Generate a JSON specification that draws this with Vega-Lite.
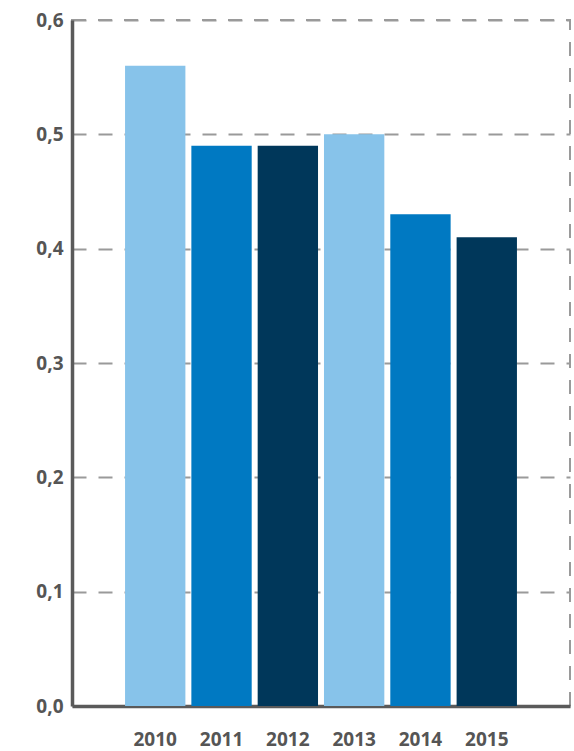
{
  "$schema": "https://vega.github.io/schema/vega-lite/v6.json",
  "autosize": {"type": "none"},
  "padding": {"left": 72, "top": 20, "right": 4, "bottom": 45},
  "width": 498,
  "height": 686,
  "background": "white",
  "config": {
    "view": {"stroke": "#9a9a9a", "strokeWidth": 2, "strokeDash": [14, 12]},
    "font": "Open Sans"
  },
  "data": {
    "values": [
      {"year": "2010", "value": 0.56},
      {"year": "2011", "value": 0.49},
      {"year": "2012", "value": 0.49},
      {"year": "2013", "value": 0.50},
      {"year": "2014", "value": 0.43},
      {"year": "2015", "value": 0.41}
    ]
  },
  "mark": {"type": "bar"},
  "encoding": {
    "x": {
      "field": "year",
      "type": "ordinal",
      "title": null,
      "scale": {"paddingInner": 0.09, "paddingOuter": 0.8},
      "axis": {
        "labelAngle": 0,
        "labelFont": "Open Sans",
        "labelFontSize": 19,
        "labelFontWeight": "bold",
        "labelColor": "#555555",
        "ticks": false,
        "labelPadding": 24,
        "domainColor": "#5a5a5a",
        "domainWidth": 3.5,
        "grid": false
      }
    },
    "y": {
      "field": "value",
      "type": "quantitative",
      "title": null,
      "scale": {"domain": [0, 0.6], "nice": false},
      "axis": {
        "values": [0, 0.1, 0.2, 0.3, 0.4, 0.5, 0.6],
        "labelExpr": "replace(format(datum.value, '.1f'), '.', ',')",
        "labelFont": "Open Sans",
        "labelFontSize": 19,
        "labelFontWeight": "bold",
        "labelColor": "#555555",
        "ticks": false,
        "labelPadding": 9,
        "domainColor": "#5a5a5a",
        "domainWidth": 3.5,
        "grid": true,
        "gridColor": "#9a9a9a",
        "gridWidth": 2,
        "gridDash": [14, 12]
      }
    },
    "color": {
      "field": "year",
      "type": "nominal",
      "legend": null,
      "scale": {
        "domain": ["2010", "2011", "2012", "2013", "2014", "2015"],
        "range": ["#87c3ea", "#0079c2", "#00375a", "#87c3ea", "#0079c2", "#00375a"]
      }
    }
  }
}
